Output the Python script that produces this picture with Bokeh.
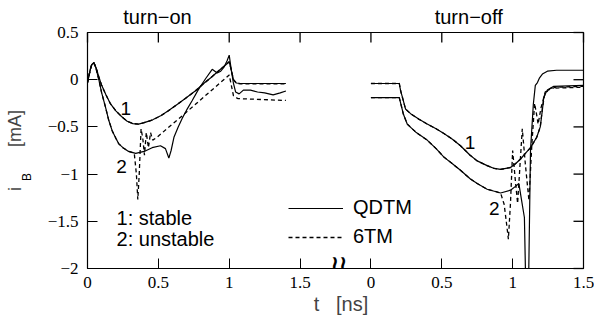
import math
from bokeh.plotting import figure
from bokeh.models import FixedTicker, LinearAxis, Label, Legend, LegendItem, Range1d
from bokeh.embed import file_html
from bokeh.resources import INLINE

# ---------------- data ----------------
# turn-on panel (t in ns, iB in mA)
on_t_qdtm_1 = [0.0, 0.01, 0.02, 0.03, 0.045, 0.06, 0.08, 0.10, 0.13, 0.16, 0.20, 0.24, 0.28, 0.32, 0.36,
               0.40, 0.46, 0.52, 0.57, 0.63, 0.69, 0.76, 0.82, 0.87, 0.93, 0.97, 1.0, 1.015, 1.03, 1.05, 1.08, 1.4]
on_i_qdtm_1 = [-0.03, 0.04, 0.11, 0.16, 0.18, 0.13, 0.03, -0.06, -0.16, -0.25, -0.33, -0.39, -0.44, -0.465, -0.47,
               -0.455, -0.425, -0.38, -0.33, -0.265, -0.2, -0.12, -0.04, 0.02, 0.1, 0.15, 0.19, 0.1, 0.0, -0.035, -0.04, -0.04]
on_t_6tm_1 = [0.0, 0.01, 0.02, 0.03, 0.045, 0.06, 0.08, 0.10, 0.13, 0.16, 0.20, 0.24, 0.28, 0.32, 0.36,
              0.40, 0.46, 0.52, 0.57, 0.63, 0.69, 0.76, 0.82, 0.87, 0.93, 0.97, 1.0, 1.015, 1.03, 1.05, 1.08, 1.4]
on_i_6tm_1 = [-0.03, 0.04, 0.11, 0.16, 0.18, 0.13, 0.03, -0.06, -0.16, -0.25, -0.33, -0.39, -0.44, -0.465, -0.47,
              -0.455, -0.425, -0.38, -0.33, -0.265, -0.2, -0.12, -0.04, 0.02, 0.1, 0.15, 0.19, 0.1, 0.0, -0.035, -0.045, -0.045]
on_t_qdtm_2 = [0.0, 0.01, 0.02, 0.03, 0.045, 0.06, 0.08, 0.10, 0.127, 0.15, 0.174, 0.20, 0.221, 0.25, 0.29, 0.34,
               0.40, 0.456, 0.515, 0.55, 0.574, 0.59, 0.61, 0.64, 0.668, 0.70, 0.739, 0.78, 0.833, 0.88, 0.915,
               0.94, 0.962, 0.985, 1.0, 1.015, 1.03, 1.045, 1.07, 1.10, 1.15, 1.20, 1.25, 1.31, 1.36, 1.40]
on_i_qdtm_2 = [-0.03, 0.04, 0.11, 0.16, 0.18, 0.12, 0.0, -0.14, -0.29, -0.43, -0.54, -0.62, -0.68, -0.72, -0.76, -0.78,
               -0.76, -0.72, -0.70, -0.73, -0.83, -0.75, -0.61, -0.50, -0.41, -0.32, -0.22, -0.11, 0.01, 0.11, 0.07,
               0.09, 0.13, 0.20, 0.26, 0.10, -0.04, -0.13, -0.15, -0.11, -0.11, -0.13, -0.14, -0.16, -0.14, -0.12]
on_t_6tm_2 = [0.0, 0.01, 0.02, 0.03, 0.045, 0.06, 0.08, 0.10, 0.127, 0.15, 0.174, 0.20, 0.221, 0.25, 0.29, 0.33,
              0.345, 0.355, 0.365, 0.378, 0.39, 0.402, 0.415, 0.43, 0.445, 0.46, 0.49, 0.67, 1.0, 1.03, 1.06, 1.4]
on_i_6tm_2 = [-0.03, 0.04, 0.11, 0.16, 0.18, 0.12, 0.0, -0.14, -0.29, -0.43, -0.54, -0.62, -0.68, -0.72, -0.76, -0.78,
              -1.0, -1.27, -1.0, -0.52, -0.62, -0.8, -0.56, -0.72, -0.56, -0.64, -0.61, -0.38, 0.05, -0.17, -0.2, -0.22]

# turn-off panel
off_t_qdtm_1 = [0.0, 0.2, 0.21, 0.221, 0.244, 0.28, 0.34, 0.397, 0.46, 0.515, 0.575, 0.632, 0.70, 0.75, 0.82, 0.87,
                0.915, 0.985, 1.02, 1.056, 1.09, 1.126, 1.17, 1.195, 1.21, 1.22, 1.245, 1.29, 1.5]
off_i_qdtm_1 = [-0.04, -0.04, -0.12, -0.18, -0.31, -0.36, -0.42, -0.47, -0.52, -0.57, -0.63, -0.70, -0.80, -0.86, -0.91, -0.94,
                -0.95, -0.93, -0.89, -0.84, -0.78, -0.72, -0.61, -0.50, -0.32, -0.18, -0.11, -0.07, -0.06]
off_t_6tm_1 = [0.0, 0.2, 0.21, 0.221, 0.244, 0.28, 0.34, 0.397, 0.46, 0.515, 0.575, 0.632, 0.70, 0.75, 0.82, 0.87,
               0.915, 0.985, 1.02, 1.056, 1.09, 1.126, 1.17, 1.195, 1.21, 1.225, 1.25, 1.30, 1.5]
off_i_6tm_1 = [-0.04, -0.04, -0.12, -0.18, -0.31, -0.36, -0.42, -0.47, -0.52, -0.57, -0.63, -0.70, -0.80, -0.86, -0.91, -0.94,
               -0.95, -0.93, -0.89, -0.84, -0.78, -0.72, -0.61, -0.50, -0.30, -0.17, -0.11, -0.08, -0.07]
off_t_qdtm_2 = [0.0, 0.2, 0.215, 0.228, 0.256, 0.32, 0.397, 0.46, 0.515, 0.575, 0.632, 0.70, 0.75, 0.82, 0.915, 0.985,
                1.02, 1.044, 1.06, 1.083, 1.09, 1.10, 1.114, 1.126, 1.146, 1.16, 1.175, 1.19, 1.21, 1.245, 1.31, 1.5]
off_i_qdtm_2 = [-0.19, -0.19, -0.28, -0.36, -0.47, -0.56, -0.64, -0.73, -0.82, -0.89, -0.96, -1.05, -1.10, -1.16, -1.20, -1.17,
                -1.13, -1.10, -1.25, -1.46, -2.0, -2.3, -2.0, -0.75, -0.26, -0.06, -0.03, 0.02, 0.06, 0.09, 0.10, 0.10]
off_t_6tm_2 = [0.0, 0.2, 0.215, 0.228, 0.256, 0.32, 0.397, 0.46, 0.515, 0.575, 0.632, 0.70, 0.75, 0.82, 0.915, 0.94,
               0.955, 0.97, 0.985, 1.0, 1.018, 1.035, 1.05, 1.068, 1.09, 1.115, 1.135, 1.155, 1.168, 1.18, 1.2, 1.23, 1.27, 1.5]
off_i_6tm_2 = [-0.19, -0.19, -0.28, -0.36, -0.47, -0.56, -0.64, -0.73, -0.82, -0.89, -0.96, -1.05, -1.10, -1.16, -1.20, -1.32,
               -1.5, -1.69, -1.3, -0.75, -1.05, -1.31, -0.95, -0.52, -0.9, -1.28, -0.7, -0.25, -0.36, -0.47, -0.3, -0.13, -0.09, -0.08]

x_ticks_on = [0, 0.5, 1, 1.5]
x_ticks_off = [0, 0.5, 1, 1.5]
y_ticks = [0.5, 0, -0.5, -1, -1.5, -2]
y_tick_labels = ["0.5", "0", "\u22120.5", "\u22121", "\u22121.5", "\u22122"]
panel_titles = ["turn\u2212on", "turn\u2212off"]

OFF_SHIFT = 2.0  # the turn-off time axis begins at 2.0 on the shared (broken) axis
X0, X1, Y0, Y1 = 0.0, 3.5, -2.0, 0.5

# ---------------- figure ----------------
SANS = "Liberation Sans"
SERIF = "Liberation Serif"
W, H = 594, 322
BL, BR, BT, BB = 87, 11, 32, 54
TICK_PX = 10

p = figure(width=W, height=H, output_backend="svg", toolbar_location=None,
           x_range=Range1d(X0, X1), y_range=Range1d(Y0, Y1),
           min_border_left=BL, min_border_right=BR, min_border_top=BT, min_border_bottom=BB)
p.background_fill_color = "white"
p.border_fill_color = "white"
p.outline_line_color = "black"
p.outline_line_width = 1.2
p.xgrid.visible = False
p.ygrid.visible = False

xt = list(x_ticks_on) + [t + OFF_SHIFT for t in x_ticks_off]
xlab = {float(t): ("%g" % t) for t in x_ticks_on}
xlab.update({float(t + OFF_SHIFT): ("%g" % t) for t in x_ticks_off})
ylab = {float(v): s for v, s in zip(y_ticks, y_tick_labels)}


def style_axis(ax, standoff, size="17px", font=SERIF):
    ax.major_tick_out = 0
    ax.minor_tick_out = 0
    ax.minor_tick_in = 0
    ax.axis_line_color = "black"
    ax.major_tick_line_color = "black"
    ax.minor_tick_line_color = None
    ax.major_tick_line_width = 1
    ax.major_label_text_font = font
    ax.major_label_text_font_size = size
    ax.major_label_text_color = "black"
    ax.major_label_standoff = standoff


# bottom axis
bx = p.xaxis[0]
bx.ticker = FixedTicker(ticks=xt)
bx.major_label_overrides = xlab
style_axis(bx, 8)
bx.major_tick_in = TICK_PX
bx.axis_label = "\u00a0\u00a0t\u00a0\u00a0\u00a0[ns]"
bx.axis_label_text_font = SANS
bx.axis_label_text_font_style = "normal"
bx.axis_label_text_font_size = "20px"
bx.axis_label_standoff = 2

# left axis
ly = p.yaxis[0]
ly.ticker = FixedTicker(ticks=y_ticks)
ly.major_label_overrides = ylab
style_axis(ly, 9)
ly.major_tick_in = TICK_PX

# outer left axis carrying the rotated quantity label  i_B  [mA]
sub_pos = -1.03
ly2 = LinearAxis(ticker=FixedTicker(ticks=[sub_pos]), major_label_overrides={sub_pos: "B"})
style_axis(ly2, 10, size="12px", font=SANS)
ly2.major_tick_in = 0
ly2.axis_line_color = None
ly2.major_tick_line_color = None
ly2.major_label_orientation = "vertical"
ly2.axis_label = "i" + "\u00a0" * 8 + "[mA]"
ly2.axis_label_text_font = SANS
ly2.axis_label_text_font_style = "normal"
ly2.axis_label_text_font_size = "18px"
ly2.axis_label_standoff = -7
p.add_layout(ly2, "left")

# top axis: panel titles as labels
title_pos = [0.494, 2.69]
top = LinearAxis(ticker=FixedTicker(ticks=title_pos),
                 major_label_overrides={float(x): s for x, s in zip(title_pos, panel_titles)})
style_axis(top, 5, size="20px", font=SANS)
top.major_tick_in = 0
top.major_tick_line_color = None
top.axis_line_color = None
p.add_layout(top, "above")

# inward tick marks along the top and right frame edges (same tick positions as the axes)
tick_dy = TICK_PX * (Y1 - Y0) / (H - BT - BB)
tick_dx = TICK_PX * (X1 - X0) / (W - BL - BR)
top_ticks = p.segment(x0=xt, x1=xt, y0=[Y1 - tick_dy] * len(xt), y1=[Y1] * len(xt),
                      line_color="black", line_width=1.3, level="overlay")
right_ticks = p.segment(x0=[X1 - tick_dx] * len(y_ticks), x1=[X1] * len(y_ticks), y0=y_ticks, y1=y_ticks,
                        line_color="black", line_width=1.3, level="overlay")

SOLID_W = 1.2
DASH_W = 1.3
DASH = "4 3"

# turn-on
p.line(on_t_6tm_1, on_i_6tm_1, line_color="black", line_width=DASH_W, line_dash=DASH)
p.line(on_t_6tm_2, on_i_6tm_2, line_color="black", line_width=DASH_W, line_dash=DASH)
r_q = p.line(on_t_qdtm_1, on_i_qdtm_1, line_color="black", line_width=SOLID_W)
p.line(on_t_qdtm_2, on_i_qdtm_2, line_color="black", line_width=SOLID_W)
# turn-off
p.line([t + OFF_SHIFT for t in off_t_6tm_1], off_i_6tm_1, line_color="black", line_width=DASH_W, line_dash=DASH)
r_6 = p.line([t + OFF_SHIFT for t in off_t_6tm_2], off_i_6tm_2, line_color="black", line_width=DASH_W, line_dash=DASH)
p.line([t + OFF_SHIFT for t in off_t_qdtm_1], off_i_qdtm_1, line_color="black", line_width=SOLID_W)
p.line([t + OFF_SHIFT for t in off_t_qdtm_2], off_i_qdtm_2, line_color="black", line_width=SOLID_W)

legend = Legend(items=[LegendItem(label="QDTM", renderers=[r_q]),
                       LegendItem(label="6TM", renderers=[r_6])],
                location=(201, 20), glyph_width=55, glyph_height=20, label_height=20,
                label_standoff=10, spacing=6, padding=0, margin=0,
                border_line_alpha=0, background_fill_alpha=0,
                label_text_font=SANS, label_text_font_size="20px", label_text_color="black")
p.add_layout(legend)


def lab(x, y, text, size="19px", font=SANS, align="center", baseline="middle", angle=0.0, style="normal"):
    p.add_layout(Label(x=x, y=y, text=text, text_font=font, text_font_size=size, text_align=align,
                       text_baseline=baseline, angle=angle, text_color="black", text_font_style=style))


# curve numbers
lab(0.27, -0.305, "1")
lab(0.24, -0.92, "2")
lab(2.70, -0.665, "1")
lab(2.87, -1.36, "2")
# notes
lab(0.205, -1.46, "1: stable", size="20px", align="left")
lab(0.205, -1.69, "2: unstable", size="20px", align="left")
# axis break mark
lab(1.775, -1.95, "\u2240\u2240", size="22px", font="DejaVu Sans", style="bold")

open("out.html", "w").write(file_html(p, INLINE))
